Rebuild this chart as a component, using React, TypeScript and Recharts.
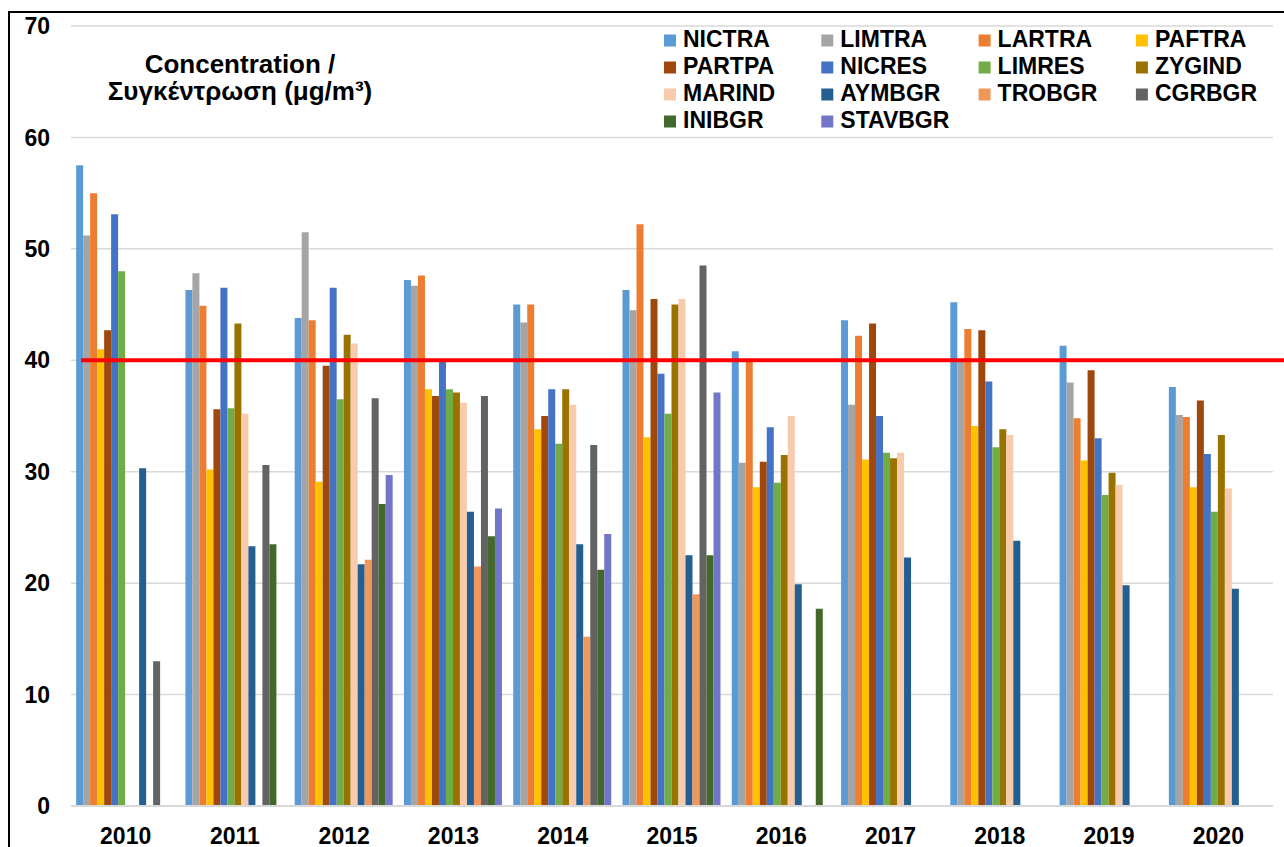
import React from 'react';
import {
  Bar,
  BarChart,
  CartesianGrid,
  ReferenceLine,
  XAxis,
  YAxis
} from 'recharts';

const years = ['2010', '2011', '2012', '2013', '2014', '2015', '2016', '2017', '2018', '2019', '2020'];

const stations = [
  'NICTRA', 'LIMTRA', 'LARTRA', 'PAFTRA',
  'PARTPA', 'NICRES', 'LIMRES', 'ZYGIND',
  'MARIND', 'AYMBGR', 'TROBGR', 'CGRBGR',
  'INIBGR', 'STAVBGR'
];

const colors = [
  '#5B9BD5', '#A5A5A5', '#ED7D31', '#FFC000',
  '#9E480E', '#4472C4', '#70AD47', '#997300',
  '#F8CBAD', '#255E91', '#F1975A', '#636363',
  '#43682B', '#7376C8'
];

const NICTRA = [57.5, 46.3, 43.8, 47.2, 45.0, 46.3, 40.8, 43.6, 45.2, 41.3, 37.6];
const LIMTRA = [51.2, 47.8, 51.5, 46.7, 43.4, 44.5, 30.8, 36.0, 40.0, 38.0, 35.1];
const LARTRA = [55.0, 44.9, 43.6, 47.6, 45.0, 52.2, 39.9, 42.2, 42.8, 34.8, 34.9];
const PAFTRA = [41.0, 30.2, 29.1, 37.4, 33.8, 33.1, 28.6, 31.1, 34.1, 31.0, 28.6];
const PARTPA = [42.7, 35.6, 39.5, 36.8, 35.0, 45.5, 30.9, 43.3, 42.7, 39.1, 36.4];
const NICRES = [53.1, 46.5, 46.5, 39.9, 37.4, 38.8, 34.0, 35.0, 38.1, 33.0, 31.6];
const LIMRES = [48.0, 35.7, 36.5, 37.4, 32.5, 35.2, 29.0, 31.7, 32.2, 27.9, 26.4];
const ZYGIND = [null, 43.3, 42.3, 37.1, 37.4, 45.0, 31.5, 31.2, 33.8, 29.9, 33.3];
const MARIND = [null, 35.2, 41.5, 36.2, 36.0, 45.5, 35.0, 31.7, 33.3, 28.8, 28.5];
const AYMBGR = [30.3, 23.3, 21.7, 26.4, 23.5, 22.5, 19.9, 22.3, 23.8, 19.8, 19.5];
const TROBGR = [null, null, 22.1, 21.5, 15.2, 19.0, null, null, null, null, null];
const CGRBGR = [13.0, 30.6, 36.6, 36.8, 32.4, 48.5, null, null, null, null, null];
const INIBGR = [null, 23.5, 27.1, 24.2, 21.2, 22.5, 17.7, null, null, null, null];
const STAVBGR = [null, null, 29.7, 26.7, 24.4, 37.1, null, null, null, null, null];

const series: (number | null)[][] = [
  NICTRA, LIMTRA, LARTRA, PAFTRA, PARTPA, NICRES, LIMRES,
  ZYGIND, MARIND, AYMBGR, TROBGR, CGRBGR, INIBGR, STAVBGR
];

const yTicks = [0, 10, 20, 30, 40, 50, 60, 70];
const limitValue = 40;

const data = years.map((year, i) =>
  stations.reduce(
    (acc, name, s) => ({ ...acc, [name]: series[s][i] }),
    { year } as Record<string, string | number | null>
  )
);

const font = 'Arial, "Liberation Sans", sans-serif';

const LimitLine = (props: any) => (
  <line
    x1={props.x1 + 10}
    y1={props.y1}
    x2={props.x2 + 14}
    y2={props.y2}
    stroke="#FF0000"
    strokeWidth={4}
  />
);

const Overlay = () => (
  <svg
    width={1284}
    height={847}
    style={{ position: 'absolute', left: 0, top: 0, pointerEvents: 'none' }}
  >
    <text x={240} y={73} textAnchor="middle" fontFamily={font} fontWeight="bold" fontSize={26} fill="#000">
      Concentration /
    </text>
    <text x={240} y={100} textAnchor="middle" fontFamily={font} fontWeight="bold" fontSize={26} fill="#000">
      Συγκέντρωση (μg/m³)
    </text>
    {stations.map((name, i) => {
      const col = i % 4;
      const row = Math.floor(i / 4);
      const x = 664 + col * 157.3;
      const base = 47 + row * 27;
      return (
        <g key={name}>
          <rect x={x} y={base - 12.5} width={12} height={12} fill={colors[i]} />
          <text x={x + 19} y={base} fontFamily={font} fontWeight="bold" fontSize={23} fill="#000">
            {name}
          </text>
        </g>
      );
    })}
  </svg>
);

export default function App() {
  return (
    <div
      style={{
        position: 'fixed',
        left: 0,
        top: 0,
        width: 1284,
        height: 847,
        overflow: 'hidden',
        background: '#fff'
      }}
    >
      <div
        style={{
          position: 'absolute',
          left: 8,
          top: 11,
          width: 1400,
          height: 900,
          borderLeft: '2px solid #000',
          borderTop: '2px solid #000'
        }}
      />
      <div style={{ position: 'absolute', left: 0, top: 0 }}>
        <BarChart
          width={1284}
          height={847}
          data={data}
          margin={{ top: 26, right: 11, bottom: 0, left: 0 }}
          barCategoryGap="4.7%"
          barGap={0}
        >
          <CartesianGrid vertical={false} stroke="#D9D9D9" strokeWidth={1.5} />
          <XAxis
            dataKey="year"
            height={41}
            tickSize={0}
            tickMargin={22}
            axisLine={{ stroke: '#D9D9D9', strokeWidth: 2 }}
            tick={{ fontFamily: font, fontWeight: 'bold', fontSize: 23, fill: '#000' }}
          />
          <YAxis
            width={71}
            domain={[0, 70]}
            ticks={yTicks}
            interval={0}
            tickSize={0}
            tickMargin={21}
            axisLine={false}
            tick={{ fontFamily: font, fontWeight: 'bold', fontSize: 23, fill: '#000' }}
          />
          {stations.map((name, i) => (
            <Bar
              key={name}
              dataKey={name}
              fill={colors[i]}
              isAnimationActive={false}
            />
          ))}
          <ReferenceLine y={limitValue} shape={LimitLine} />
        </BarChart>
      </div>
      <Overlay />
    </div>
  );
}
